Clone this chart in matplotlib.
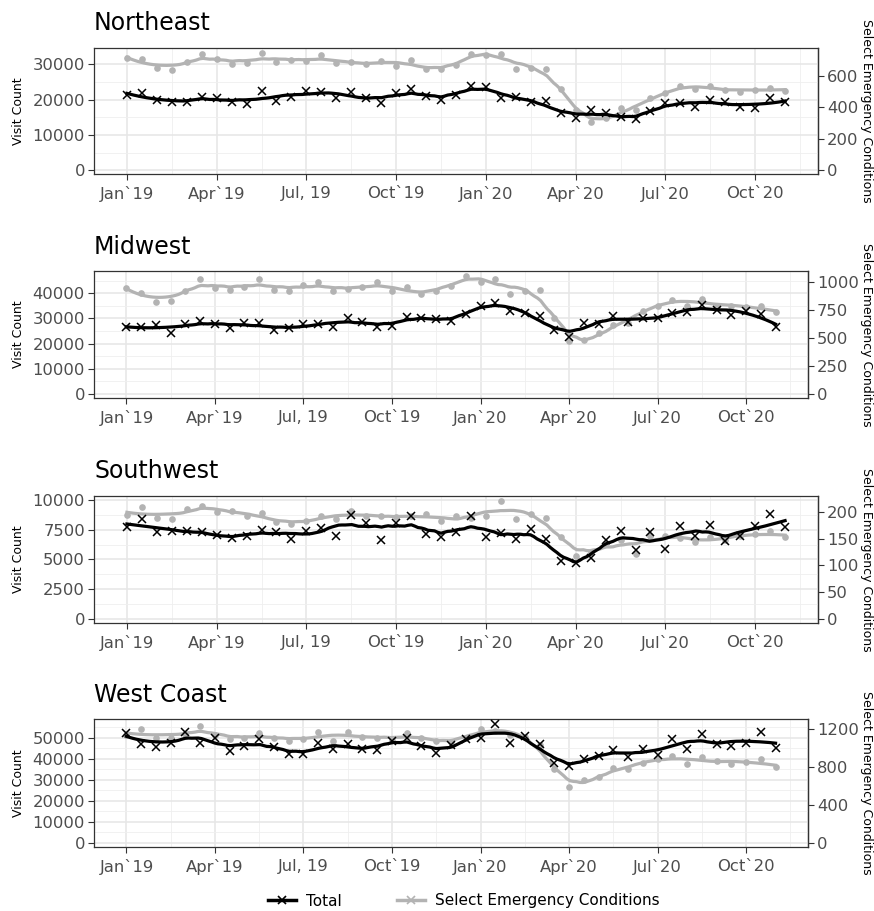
import numpy as np
import matplotlib
matplotlib.use("Agg")
import matplotlib.pyplot as plt
from matplotlib.lines import Line2D
from matplotlib.ticker import FixedLocator

# ---------------- data ----------------
# semi-monthly observations, expressed in months since Jan 2019 (0 .. 22)
months = np.arange(45) * 0.5
tick_pos = [0, 3, 6, 9, 12, 15, 18, 21]
tick_labels = ["Jan`19", "Apr`19", "Jul, 19", "Oct`19", "Jan`20", "Apr`20", "Jul`20", "Oct`20"]

regions = ["Northeast", "Midwest", "Southwest", "West Coast"]

ne_total = [21300, 21800, 19900, 19200, 19400, 20700, 20600, 19300, 18700, 22500,
            19700, 20800, 22500, 22100, 20400, 22300, 20600, 19000, 21800, 22900,
            21000, 20000, 21300, 23900, 23500, 20600, 20800, 19200, 19600, 16100,
            14700, 17100, 16100, 15000, 14500, 16800, 19000, 19000, 18000, 19900,
            19400, 17800, 17500, 20400, 19200]
ne_select = [712, 710, 649, 638, 687, 738, 706, 674, 685, 748,
             687, 702, 695, 733, 680, 689, 674, 697, 666, 702,
             642, 643, 670, 740, 733, 738, 644, 653, 644, 515,
             384, 310, 331, 394, 384, 458, 490, 536, 515, 536,
             511, 500, 511, 526, 505]

mw_total = [26500, 26500, 27400, 24100, 27700, 29000, 27800, 26100, 28300, 28100,
            25400, 26100, 27800, 27700, 26800, 30100, 28700, 26800, 27200, 30700,
            30300, 29700, 29000, 31700, 35000, 36300, 33000, 32300, 31000, 25400,
            22800, 28100, 27800, 31000, 28700, 30100, 30100, 32100, 32500, 35400,
            33400, 31400, 33000, 31700, 26800]
mw_select = [946, 902, 821, 827, 917, 1027, 946, 929, 955, 1030,
             932, 923, 970, 1000, 917, 940, 958, 997, 917, 952,
             896, 923, 965, 1057, 1000, 1027, 893, 923, 932, 679,
             470, 485, 545, 619, 634, 744, 789, 842, 789, 848,
             789, 783, 774, 789, 729]

sw_total = [7760, 8380, 7340, 7420, 7420, 7340, 7060, 6780, 6970, 7480,
            7340, 6690, 7420, 7620, 6970, 8740, 8100, 6640, 8100, 8680,
            7110, 6850, 7340, 8660, 6920, 7200, 6690, 7560, 6690, 4870,
            4680, 5150, 6640, 7390, 5800, 7340, 5910, 7840, 6950, 7870,
            6580, 7000, 7790, 8820, 7730]
sw_select = [195, 209, 188, 186, 206, 212, 200, 202, 192, 199,
             181, 178, 184, 193, 186, 201, 192, 192, 190, 192,
             196, 183, 192, 189, 193, 221, 187, 196, 188, 153,
             118, 126, 142, 147, 121, 156, 156, 151, 143, 153,
             148, 156, 158, 164, 153]

wc_total = [52400, 47000, 45400, 47300, 52500, 47600, 49700, 43800, 46000, 49200,
            45400, 42200, 42200, 47300, 44600, 47000, 44600, 44100, 48400, 49700,
            46000, 42500, 46500, 49200, 49700, 56500, 47600, 50800, 47000, 38100,
            36500, 39700, 41400, 44100, 40900, 44600, 41700, 49200, 44600, 51600,
            47000, 46000, 47600, 52900, 44900]
wc_select = [1140, 1204, 1110, 1105, 1150, 1235, 1140, 1098, 1112, 1165,
             1105, 1080, 1098, 1168, 1080, 1175, 1122, 1105, 1090, 1158,
             1105, 1080, 1070, 1105, 1200, 1186, 1140, 1122, 1034, 780,
             593, 664, 699, 787, 777, 847, 882, 918, 830, 904,
             865, 833, 851, 882, 798]

left_ticks = [[0, 10000, 20000, 30000],
              [0, 10000, 20000, 30000, 40000],
              [0, 2500, 5000, 7500, 10000],
              [0, 10000, 20000, 30000, 40000, 50000]]
right_ticks = [[0, 200, 400, 600],
               [0, 250, 500, 750, 1000],
               [0, 50, 100, 150, 200],
               [0, 400, 800, 1200]]

totals = [ne_total, mw_total, sw_total, wc_total]
selects = [ne_select, mw_select, sw_select, wc_select]

# ---------------- layout / style ----------------
W, H = 874, 911
# panel boxes in pixels: left, right, top, bottom
boxes = [(94, 818, 47.7, 174.3),
         (94, 808, 271.0, 398.3),
         (94, 818, 496.0, 623.3),
         (94, 808, 719.3, 846.7)]
ylims = [(-1130, 34700), (-1720, 48870), (-364, 10336), (-1905, 58730)]
scale = [0.02247, 0.02247, 0.02224, 0.02224]   # secondary = primary * scale

GRAY = "#B3B3B3"
TXT = "#4D4D4D"
DARK = "#333333"


def loess(x, y, xs, span=0.2):
    x = np.asarray(x, float)
    y = np.asarray(y, float)
    n = len(x)
    q = int(np.floor(n * span))
    res = []
    for x0 in xs:
        d = np.abs(x - x0)
        h = np.sort(d)[q - 1] * 1.0001
        w = np.clip(1 - (d / h) ** 3, 0, None) ** 3
        A = np.vstack([np.ones(n), x - x0, (x - x0) ** 2]).T
        sw = np.sqrt(w)
        coef, *_ = np.linalg.lstsq(A * sw[:, None], y * sw, rcond=None)
        res.append(coef[0])
    return np.array(res)


fig = plt.figure(figsize=(W / 100, H / 100), dpi=100)
xs = np.linspace(months.min(), months.max(), 200)

for i, name in enumerate(regions):
    l, r, t, b = boxes[i]
    ax = fig.add_axes([l / W, 1 - b / H, (r - l) / W, (b - t) / H])
    k = scale[i]
    tot = np.array(totals[i], float)
    sel = np.array(selects[i], float)

    ax.set_xlim(-1.1, 23.1)
    ax.set_ylim(*ylims[i])

    # grid
    ax.set_axisbelow(True)
    ax.xaxis.set_major_locator(FixedLocator(tick_pos))
    ax.xaxis.set_minor_locator(FixedLocator([p + 1.5 for p in tick_pos]))
    lt = left_ticks[i]
    ax.yaxis.set_major_locator(FixedLocator(lt))
    step = lt[1] - lt[0]
    ax.yaxis.set_minor_locator(FixedLocator([v + step / 2 for v in lt]))
    ax.grid(which="major", color="#E6E6E6", lw=1.1)
    ax.grid(which="minor", color="#EFEFEF", lw=0.6)

    # selected emergency conditions (plotted on the secondary scale)
    ax.plot(months, sel / k, "o", color=GRAY, ms=4.8, mec="none", zorder=2)
    ax.plot(xs, loess(months, sel, xs) / k, color=GRAY, lw=2.3, zorder=3)
    # total
    ax.plot(months, tot, "x", color="black", ms=6.2, mew=1.1, zorder=4)
    ax.plot(xs, loess(months, tot, xs), color="black", lw=2.3, zorder=5)

    ax.set_xticks(tick_pos)
    ax.set_xticklabels(tick_labels)
    ax.tick_params(which="major", length=4, width=0.8, color=DARK,
                   labelcolor=TXT, labelsize=11.8, pad=2.5)
    ax.tick_params(axis="x", which="major", pad=4.5)
    ax.tick_params(which="minor", length=0)
    for s in ax.spines.values():
        s.set_color(DARK)
        s.set_linewidth(0.9)

    sec = ax.secondary_yaxis("right", functions=(lambda y, k=k: y * k,
                                                 lambda y, k=k: y / k))
    sec.set_yticks(right_ticks[i])
    sec.tick_params(length=4, width=0.8, color=DARK, labelcolor=TXT,
                    labelsize=11.8, pad=2.5)
    sec.spines["right"].set_color(DARK)
    sec.spines["right"].set_linewidth(0.9)

    # titles
    fig.text(l / W, 1 - (t - 17.5) / H, name, fontsize=17, color="black",
             ha="left", va="baseline")
    yc = 1 - (t + b) / 2 / H
    fig.text(19 / W, yc, "Visit Count", rotation=90, fontsize=9,
             ha="center", va="center", color="black")
    fig.text(866 / W, yc, "Select Emergency Conditions", rotation=-90,
             fontsize=9, ha="center", va="center", color="black")

handles = [Line2D([], [], color="black", lw=2.5, marker="x", ms=6, mew=1.2),
           Line2D([], [], color=GRAY, lw=2.5, marker="x", ms=6, mew=1.2)]
fig.legend(handles, ["Total", "Select Emergency Conditions"], ncol=2,
           loc="center", bbox_to_anchor=(464 / W, 1 - 901 / H), frameon=False,
           fontsize=11, handlelength=1.8, handletextpad=0.7, columnspacing=3.6)

fig.savefig("out.png", dpi=100)
